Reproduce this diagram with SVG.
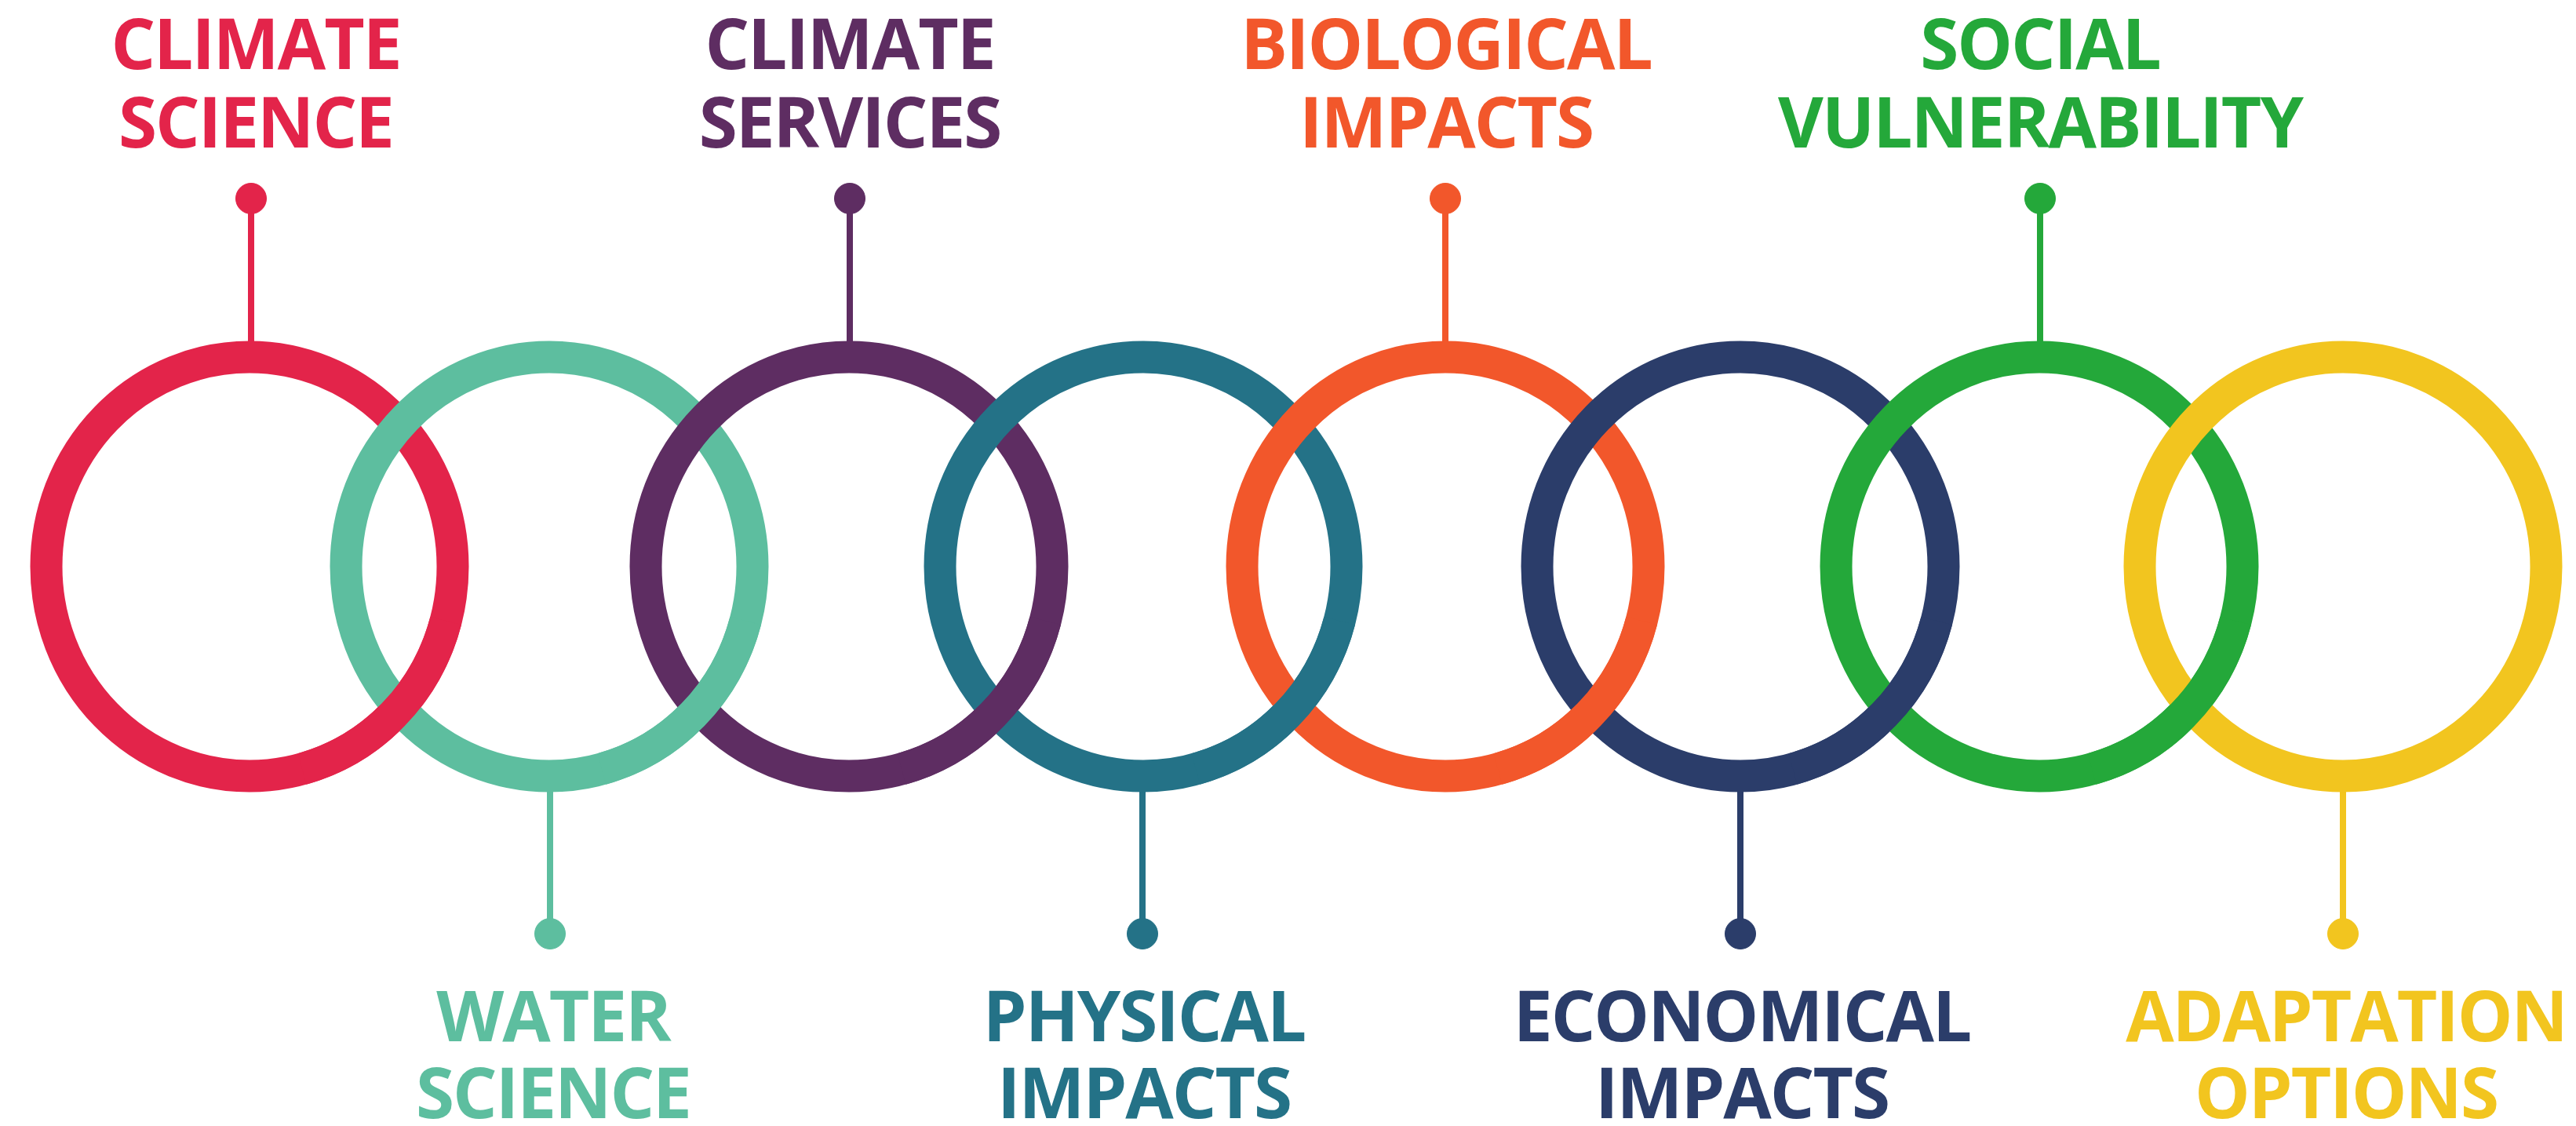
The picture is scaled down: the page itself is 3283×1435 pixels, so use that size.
<svg xmlns="http://www.w3.org/2000/svg" width="3283" height="1435" viewBox="0 0 3283 1435">
  <style>
    .ring { fill: none; stroke-width: 41; }
    .stem { stroke-width: 8; }
    .label { font-family: "Open Sans", "Liberation Sans", sans-serif; font-weight: 700; font-size: 89px; letter-spacing: -2px; text-anchor: middle; }
    .c1 { stroke: #E3244A; fill: #E3244A; }
    .c2 { stroke: #5DBE9F; fill: #5DBE9F; }
    .c3 { stroke: #5E2D62; fill: #5E2D62; }
    .c4 { stroke: #247287; fill: #247287; }
    .c5 { stroke: #F2572B; fill: #F2572B; }
    .c6 { stroke: #2B3D6A; fill: #2B3D6A; }
    .c7 { stroke: #24A83A; fill: #24A83A; }
    .c8 { stroke: #F2C51F; fill: #F2C51F; }
    .ring.c1, .ring.c2, .ring.c3, .ring.c4, .ring.c5, .ring.c6, .ring.c7, .ring.c8 { fill: none; }
    text.c1, text.c2, text.c3, text.c4, text.c5, text.c6, text.c7, text.c8 { stroke: none; }
  </style>
  <rect width="3283" height="1435" fill="#FFFFFF"/>

  <!-- connectors: stems and end dots -->
  <g id="connectors">
    <line class="stem c1" x1="320" y1="253" x2="320" y2="445"/>
    <circle class="c1" cx="320" cy="253" r="19.5"/>
    <line class="stem c2" x1="701" y1="1000" x2="701" y2="1190"/>
    <circle class="c2" cx="701" cy="1190" r="19.5"/>
    <line class="stem c3" x1="1083" y1="253" x2="1083" y2="445"/>
    <circle class="c3" cx="1083" cy="253" r="19.5"/>
    <line class="stem c4" x1="1456" y1="1000" x2="1456" y2="1190"/>
    <circle class="c4" cx="1456" cy="1190" r="19.5"/>
    <line class="stem c5" x1="1842" y1="253" x2="1842" y2="445"/>
    <circle class="c5" cx="1842" cy="253" r="19.5"/>
    <line class="stem c6" x1="2218" y1="1000" x2="2218" y2="1190"/>
    <circle class="c6" cx="2218" cy="1190" r="19.5"/>
    <line class="stem c7" x1="2600" y1="253" x2="2600" y2="445"/>
    <circle class="c7" cx="2600" cy="253" r="19.5"/>
    <line class="stem c8" x1="2986" y1="1000" x2="2986" y2="1190"/>
    <circle class="c8" cx="2986" cy="1190" r="19.5"/>
  </g>

  <!-- rings, left to right; each right ring crosses over at the top -->
  <g id="ring-climate-science"><ellipse class="ring c1" cx="318" cy="722" rx="259" ry="267"/></g>
  <g id="ring-water-science"><ellipse class="ring c2" cx="700" cy="722" rx="259" ry="267"/></g>
  <g id="ring-climate-services"><ellipse class="ring c3" cx="1082" cy="722" rx="259" ry="267"/></g>
  <g id="ring-physical-impacts"><ellipse class="ring c4" cx="1457" cy="722" rx="259" ry="267"/></g>
  <g id="ring-biological-impacts"><ellipse class="ring c5" cx="1842" cy="722" rx="259" ry="267"/></g>
  <g id="ring-economical-impacts"><ellipse class="ring c6" cx="2218" cy="722" rx="259" ry="267"/></g>
  <g id="ring-social-vulnerability"><ellipse class="ring c7" cx="2599" cy="722" rx="259" ry="267"/></g>
  <g id="ring-adaptation-options"><ellipse class="ring c8" cx="2986" cy="722" rx="259" ry="267"/></g>

  <!-- lower-right arcs laid back over the neighbouring ring to interlock the chain -->
  <g id="interlock">
    <path class="ring c1" d="M 568.2 791.1 A 259 267 0 0 1 385.0 979.9"/>
    <path class="ring c2" d="M 950.2 791.1 A 259 267 0 0 1 767.0 979.9"/>
    <path class="ring c3" d="M 1332.2 791.1 A 259 267 0 0 1 1149.0 979.9"/>
    <path class="ring c4" d="M 1707.2 791.1 A 259 267 0 0 1 1524.0 979.9"/>
    <path class="ring c5" d="M 2092.2 791.1 A 259 267 0 0 1 1909.0 979.9"/>
    <path class="ring c6" d="M 2468.2 791.1 A 259 267 0 0 1 2285.0 979.9"/>
    <path class="ring c7" d="M 2849.2 791.1 A 259 267 0 0 1 2666.0 979.9"/>
  </g>

  <!-- labels -->
  <g id="label-climate-science"><text class="label c1" x="326" y="88">CLIMATE</text><text class="label c1" x="326" y="188">SCIENCE</text></g>
  <g id="label-water-science"><text class="label c2" x="705" y="1327">WATER</text><text class="label c2" x="705" y="1425">SCIENCE</text></g>
  <g id="label-climate-services"><text class="label c3" x="1083" y="88">CLIMATE</text><text class="label c3" x="1083" y="188">SERVICES</text></g>
  <g id="label-physical-impacts"><text class="label c4" x="1458" y="1327">PHYSICAL</text><text class="label c4" x="1458" y="1425">IMPACTS</text></g>
  <g id="label-biological-impacts"><text class="label c5" x="1843" y="88">BIOLOGICAL</text><text class="label c5" x="1843" y="188">IMPACTS</text></g>
  <g id="label-economical-impacts"><text class="label c6" x="2220" y="1327">ECONOMICAL</text><text class="label c6" x="2220" y="1425">IMPACTS</text></g>
  <g id="label-social-vulnerability"><text class="label c7" x="2600" y="88">SOCIAL</text><text class="label c7" x="2600" y="188">VULNERABILITY</text></g>
  <g id="label-adaptation-options"><text class="label c8" x="2990" y="1327">ADAPTATION</text><text class="label c8" x="2990" y="1425">OPTIONS</text></g>
</svg>
